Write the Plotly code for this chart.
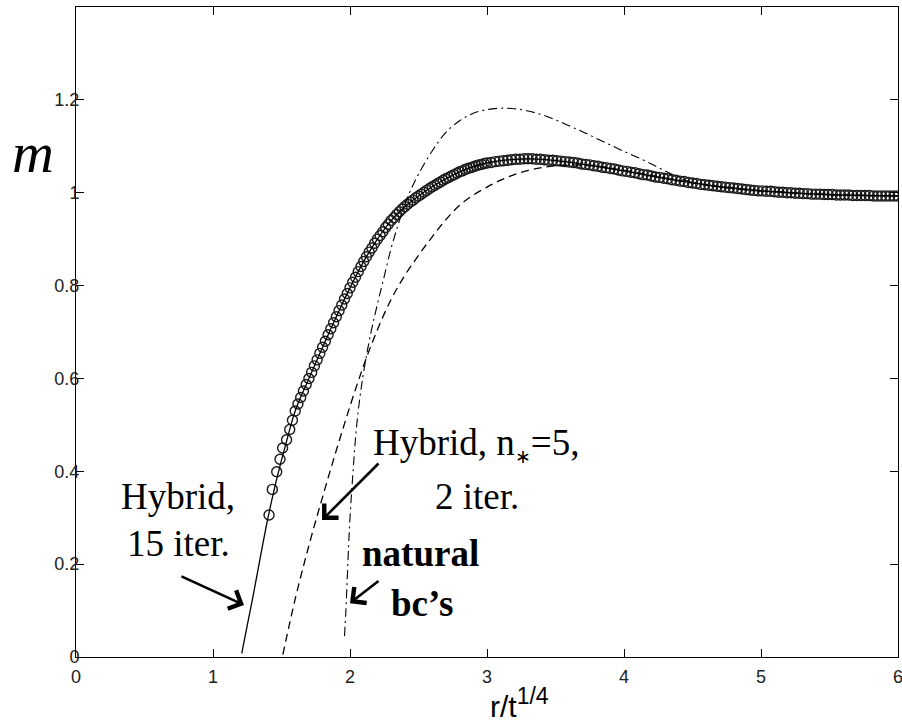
import plotly.graph_objects as go

# ---------------- data ----------------
# Hybrid, 15 iterations (solid line)
solid_x = [1.21, 1.25, 1.30, 1.35, 1.40, 1.45, 1.50, 1.55, 1.60, 1.70, 1.80, 1.90,
           2.00, 2.10, 2.20, 2.30, 2.40, 2.50, 2.60, 2.70, 2.80, 2.90, 3.00, 3.10,
           3.20, 3.30, 3.40, 3.50, 3.60, 3.80, 4.00, 4.20, 4.40, 4.60, 4.80, 5.00,
           5.20, 5.40, 5.60, 5.80, 6.00]
solid_y = [0.008, 0.068, 0.143, 0.222, 0.298, 0.365, 0.424, 0.479, 0.530, 0.600, 0.667, 0.733,
           0.795, 0.852, 0.900, 0.940, 0.970, 0.993, 1.013, 1.030, 1.045, 1.056, 1.064, 1.069,
           1.072, 1.073, 1.072, 1.069, 1.066, 1.057, 1.047, 1.036, 1.026, 1.017, 1.010, 1.004,
           1.000, 0.997, 0.995, 0.994, 0.993]

# reference solution (open circles)
circ_x = [1.409, 1.433, 1.465, 1.489, 1.508, 1.537, 1.56, 1.58,
          1.60, 1.62, 1.64, 1.66, 1.68, 1.70, 1.72, 1.74, 1.76, 1.78, 1.80, 1.82, 1.84, 1.86, 1.88,
          1.90, 1.92, 1.94, 1.96, 1.98, 2.00, 2.02, 2.04, 2.06, 2.08, 2.10, 2.12, 2.14, 2.16, 2.18,
          2.20, 2.22, 2.24, 2.26, 2.28, 2.30, 2.32, 2.34, 2.36, 2.38, 2.40, 2.42, 2.44, 2.46, 2.48,
          2.50, 2.52, 2.54, 2.56, 2.58, 2.60, 2.62, 2.64, 2.66, 2.68, 2.70, 2.72, 2.74, 2.76, 2.78,
          2.80, 2.82, 2.84, 2.86, 2.88, 2.90, 2.92, 2.94, 2.96, 2.98, 3.00,
          3.03, 3.06, 3.09, 3.12, 3.15, 3.18, 3.21, 3.24, 3.27, 3.30, 3.33, 3.36, 3.39, 3.42, 3.45,
          3.48, 3.51, 3.54, 3.57, 3.60, 3.63, 3.66, 3.69, 3.72, 3.75, 3.78, 3.81, 3.84, 3.87, 3.90,
          3.93, 3.96, 3.99, 4.02, 4.05, 4.08, 4.11, 4.14, 4.17, 4.20, 4.23, 4.26, 4.29, 4.32, 4.35,
          4.38, 4.41, 4.44, 4.47, 4.50, 4.53, 4.56, 4.59, 4.62, 4.65, 4.68, 4.71, 4.74, 4.77, 4.80,
          4.83, 4.86, 4.89, 4.92, 4.95, 4.98, 5.01, 5.04, 5.07, 5.10, 5.13, 5.16, 5.19, 5.22, 5.25,
          5.28, 5.31, 5.34, 5.37, 5.40, 5.43, 5.46, 5.49, 5.52, 5.55, 5.58, 5.61, 5.64, 5.67, 5.70,
          5.73, 5.76, 5.79, 5.82, 5.85, 5.88, 5.91, 5.94, 5.97, 6.00]
circ_y = [0.306, 0.361, 0.399, 0.426, 0.450, 0.468, 0.490, 0.510,
          0.530, 0.545, 0.559, 0.573, 0.587, 0.600, 0.613, 0.627, 0.640, 0.654, 0.667, 0.680, 0.694, 0.707, 0.720,
          0.733, 0.746, 0.758, 0.771, 0.783, 0.795, 0.807, 0.818, 0.830, 0.841, 0.852, 0.862, 0.872, 0.881, 0.891,
          0.900, 0.908, 0.916, 0.925, 0.932, 0.940, 0.946, 0.953, 0.959, 0.965, 0.970, 0.975, 0.980, 0.984, 0.989,
          0.993, 0.997, 1.001, 1.005, 1.009, 1.013, 1.016, 1.020, 1.023, 1.027, 1.030, 1.033, 1.036, 1.039, 1.042,
          1.045, 1.047, 1.050, 1.052, 1.054, 1.056, 1.058, 1.060, 1.061, 1.063, 1.064,
          1.065, 1.067, 1.068, 1.069, 1.070, 1.071, 1.072, 1.072, 1.073, 1.073, 1.073, 1.072, 1.072, 1.071, 1.070,
          1.070, 1.069, 1.068, 1.067, 1.066, 1.065, 1.064, 1.062, 1.061, 1.060, 1.058, 1.057, 1.055, 1.054, 1.052,
          1.051, 1.049, 1.047, 1.046, 1.044, 1.043, 1.041, 1.039, 1.038, 1.036, 1.034, 1.033, 1.031, 1.030, 1.028,
          1.027, 1.025, 1.024, 1.022, 1.021, 1.020, 1.018, 1.017, 1.016, 1.015, 1.014, 1.013, 1.012, 1.011, 1.010,
          1.009, 1.008, 1.007, 1.006, 1.005, 1.004, 1.004, 1.003, 1.003, 1.002, 1.001, 1.001, 1.000, 1.000, 0.999,
          0.999, 0.998, 0.998, 0.997, 0.997, 0.997, 0.996, 0.996, 0.996, 0.995, 0.995, 0.995, 0.995, 0.994, 0.994,
          0.994, 0.994, 0.994, 0.993, 0.993, 0.993, 0.993, 0.993, 0.993, 0.993]

# Hybrid, n*=5, 2 iterations (dashed)
dash_x = [1.51, 1.60, 1.70, 1.80, 1.90, 2.00, 2.10, 2.20, 2.30, 2.40, 2.50, 2.60, 2.70,
          2.80, 2.90, 3.00, 3.10, 3.20, 3.30, 3.40, 3.50, 3.60, 3.80, 4.00, 4.50, 5.00,
          5.50, 6.00]
dash_y = [0.005, 0.125, 0.240, 0.345, 0.445, 0.540, 0.628, 0.705, 0.770, 0.822, 0.865, 0.905, 0.942,
          0.973, 0.995, 1.012, 1.027, 1.039, 1.048, 1.054, 1.058, 1.060, 1.057, 1.048, 1.021, 1.004,
          0.996, 0.993]

# natural boundary conditions (dash-dot)
dd_x = [1.960, 1.970, 1.980, 1.990, 2.00, 2.02, 2.04, 2.06, 2.08, 2.10, 2.15, 2.20, 2.25,
        2.30, 2.35, 2.40, 2.45, 2.50, 2.60, 2.70, 2.80, 2.90, 3.00, 3.10, 3.20, 3.30,
        3.40, 3.50, 3.60, 3.70, 3.80, 3.90, 4.00, 4.10, 4.20, 4.30, 4.40, 4.50, 4.75,
        5.00, 5.50, 6.00]
dd_y = [0.045, 0.100, 0.170, 0.240, 0.300, 0.390, 0.470, 0.530, 0.575, 0.615, 0.695, 0.760, 0.820,
        0.880, 0.930, 0.975, 1.010, 1.040, 1.090, 1.130, 1.155, 1.171, 1.179, 1.182, 1.181, 1.176,
        1.168, 1.157, 1.144, 1.131, 1.117, 1.103, 1.089, 1.076, 1.062, 1.047, 1.033, 1.022, 1.010,
        1.004, 0.996, 0.993]

x_ticks = [0, 1, 2, 3, 4, 5, 6]
y_ticks = [0, 0.2, 0.4, 0.6, 0.8, 1.0, 1.2]
y_tick_text = ["0", "0.2", "0.4", "0.6", "0.8", "1", "1.2"]

# ---------------- figure ----------------
W, H = 902, 726
L, R, T, B = 76, 4, 7, 69
pw, ph = W - L - R, H - T - B


def px(xp):
    return (xp - L) / pw


def py(yp):
    return (H - B - yp) / ph


fig = go.Figure()
fig.add_trace(go.Scatter(x=circ_x, y=circ_y, mode="markers",
                         marker=dict(symbol="circle-open", size=10, color="#1a1a1a",
                                     line=dict(color="#1a1a1a", width=1.4)),
                         hoverinfo="skip"))
fig.add_trace(go.Scatter(x=dash_x, y=dash_y, mode="lines", line_shape="spline",
                         line=dict(color="black", width=1.3, dash="8px,5px")))
fig.add_trace(go.Scatter(x=dd_x, y=dd_y, mode="lines", line_shape="spline",
                         line=dict(color="black", width=1.1, dash="9px,4px,2px,4px")))
fig.add_trace(go.Scatter(x=solid_x, y=solid_y, mode="lines", line_shape="spline",
                         line=dict(color="black", width=1.3)))

serif = "Liberation Serif, Times New Roman, serif"
sans = "Liberation Sans, Arial, sans-serif"

ann = []


def txt(xp, yp, s, size=37, fam=serif):
    ann.append(dict(x=px(xp), y=py(yp), xref="paper", yref="paper", text=s, showarrow=False,
                    xanchor="center", yanchor="middle",
                    font=dict(family=fam, size=size, color="black")))


# text labels (pixel centres)
txt(178, 496, "Hybrid,")
txt(178, 543, "15 iter.")
txt(476, 444, "Hybrid, n<sub><span style='font-size:19px'>∗</span></sub>=5,")
txt(477, 496, "2 iter.")
txt(420, 553, "<b>natural</b>")
txt(422, 603, "<b>bc’s</b>")


# arrows (head at x,y; tail at ax,ay) in data units
def arrow(x, y, ax, ay):
    ann.append(dict(x=x, y=y, ax=ax, ay=ay, xref="x", yref="y", axref="x", ayref="y",
                    text="", showarrow=True, arrowhead=4, arrowsize=1.5, arrowwidth=2.6,
                    arrowcolor="black", standoff=0, startstandoff=0))


arrow(1.226, 0.112, 0.759, 0.175)
arrow(1.796, 0.295, 2.219, 0.420)
arrow(2.000, 0.116, 2.219, 0.166)

# axis labels
ann.append(dict(x=px(33), y=py(152), xref="paper", yref="paper", text="<i>m</i>",
                showarrow=False, xanchor="center", yanchor="middle",
                font=dict(family=serif, size=58, color="black")))
ann.append(dict(x=px(519), y=py(725), xref="paper", yref="paper",
                text="r/t<sup><span style='font-size:23px'>1/4</span></sup>", showarrow=False,
                xanchor="center", yanchor="bottom",
                font=dict(family=sans, size=30, color="black")))

axis_common = dict(showline=True, linecolor="black", linewidth=1, mirror="ticks",
                   ticks="inside", ticklen=8, tickcolor="black", tickwidth=1,
                   showgrid=False, zeroline=False, automargin=False,
                   ticklabeloverflow="allow",
                   tickfont=dict(family=sans, size=18, color="#222"))
fig.update_xaxes(range=[0, 6], tickvals=x_ticks, ticktext=[str(v) for v in x_ticks],
                 ticklabelstandoff=3, **axis_common)
fig.update_yaxes(range=[0, 1.4], tickvals=y_ticks, ticktext=y_tick_text,
                 ticklabelstandoff=-8, **axis_common)

fig.update_layout(width=W, height=H, margin=dict(l=L, r=R, t=T, b=B, pad=0, autoexpand=False),
                  plot_bgcolor="white", paper_bgcolor="white", showlegend=False,
                  annotations=ann)

fig.write_html("out.html", config={"displayModeBar": False},
               post_script="document.body.style.margin='0';document.body.style.overflow='hidden';")
